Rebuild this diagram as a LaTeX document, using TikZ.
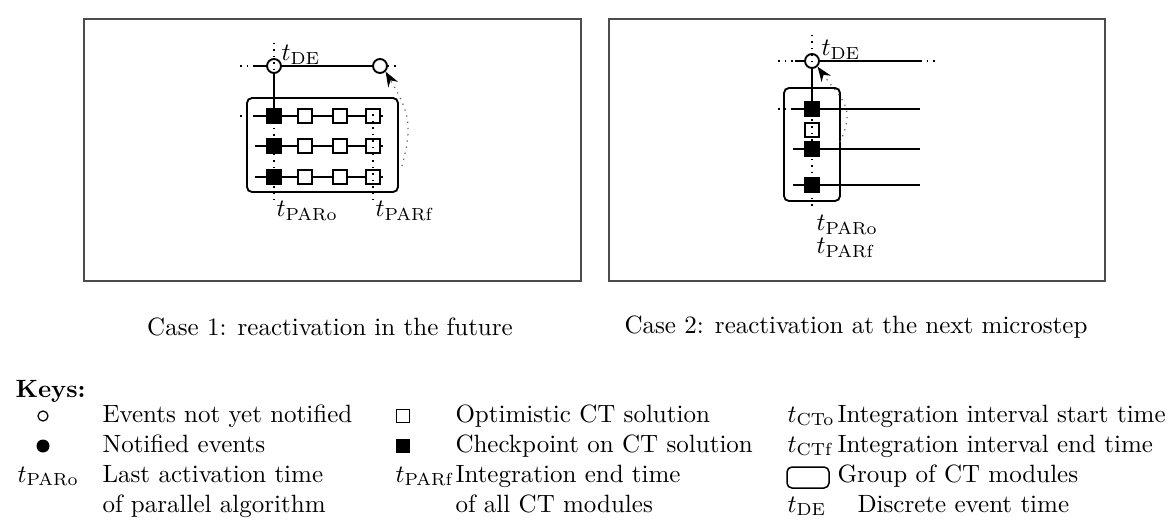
\documentclass[tikz,border=0pt]{standalone}
\usepackage{amsmath}
\usetikzlibrary{arrows.meta, positioning}

\begin{document}
\begin{tikzpicture}[
    x=0.4pt, y=-0.4pt,
    line/.style={line width=0.75pt},
    evt/.style={circle, draw, fill=white, line width=0.75pt, inner sep=0pt, minimum size=5.6pt},
    opt/.style={rectangle, draw, fill=white, line width=0.75pt, inner sep=0pt, minimum size=5.8pt},
    chk/.style={opt, fill=black},
    grp/.style={draw, rounded corners=2pt, line width=0.75pt, inner sep=0pt},
    tick/.style={dotted, line width=0.6pt},
    react/.style={dotted, draw=black!60, line width=0.5pt, -{Stealth[length=6pt, width=4.5pt, black]}},
    frame/.style={draw=black!70, line width=0.5pt},
    lbl/.style={anchor=west, inner sep=0pt},
    key/.style={anchor=base west, inner sep=0pt}
]
    \useasboundingbox (0,0) rectangle (1173,526);

    % case 1
    \draw[frame] (84,19) rectangle (581,281);
    \node[evt] (de1) at (274,66) {};
    \node[evt] (nx1) at (380,66) {};
    \coordinate (de1l) at (255,66);
    \coordinate (de1d) at (240,66);
    \coordinate (nx1d) at (400,66);
    \draw[line] (de1l) -- (de1) -- (nx1);
    \draw[tick] (de1d) -- (de1l);
    \draw[tick] (nx1) -- (nx1d);

    \node[grp, minimum width=60.4pt, minimum height=37.6pt] (g1) at (322.5,145) {};
    \foreach \y [count=\i] in {116,146,177} {
        \node[chk] (a\i) at (274,\y) {};
        \node[opt] (b\i) at (305,\y) {};
        \node[opt] (c\i) at (340,\y) {};
        \node[opt] (d\i) at (373,\y) {};
        \coordinate (l\i) at (255,\y);
        \coordinate (r\i) at (383,\y);
        \draw[line] (l\i) -- (a\i) -- (b\i) -- (c\i) -- (d\i) -- (r\i);
    }
    \coordinate (l1d) at (240,116);
    \draw[tick] (l1d) -- (l1);
    \draw[line] (de1) -- (a1);

    \coordinate (po1t) at (274,43);
    \coordinate (po1b) at (274,200);
    \coordinate (pf1t) at (373,108);
    \coordinate (pf1b) at (373,200);
    \draw[tick] (po1t) -- (po1b);
    \draw[tick] (pf1t) -- (pf1b);

    \node[lbl] (tde1) at (281,55) {$t_{\mathrm{DE}}$};
    \node[lbl] (tpo1) at (276,211) {$t_{\mathrm{PARo}}$};
    \node[lbl] (tpf1) at (375,211) {$t_{\mathrm{PARf}}$};

    \coordinate (s1) at (402,166);
    \draw[react] (s1) to[out=75, in=-60, looseness=1.2] (nx1.south east);

    \node (cap1) at (330,327) {Case 1: reactivation in the future};

    % case 2
    \draw[frame] (609,19) rectangle (1105,281);
    \node[evt] (de2) at (812,61) {};
    \coordinate (de2l) at (795,61);
    \coordinate (de2d) at (778,61);
    \coordinate (de2r) at (920,61);
    \coordinate (de2e) at (935,61);
    \draw[line] (de2l) -- (de2) -- (de2r);
    \draw[tick] (de2d) -- (de2l);
    \draw[tick] (de2r) -- (de2e);

    \node[grp, minimum width=22.4pt, minimum height=45.2pt] (g2) at (812,144.5) {};
    \node[opt] (e0) at (812,130) {};
    \foreach \y [count=\i] in {109,149,185} {
        \node[chk] (e\i) at (812,\y) {};
        \coordinate (m\i) at (793,\y);
        \coordinate (n\i) at (920,\y);
        \draw[line] (m\i) -- (e\i) -- (n\i);
    }
    \coordinate (m1d) at (778,109);
    \draw[tick] (m1d) -- (m1);
    \draw[line] (de2) -- (e1);

    \coordinate (po2t) at (812,35);
    \coordinate (po2b) at (812,207);
    \draw[tick] (po2t) -- (po2b);

    \node[lbl] (tde2) at (821,50) {$t_{\mathrm{DE}}$};
    \node[lbl] (tpo2) at (816,225) {$t_{\mathrm{PARo}}$};
    \node[lbl] (tpf2) at (816,248) {$t_{\mathrm{PARf}}$};

    \coordinate (s2) at (840,142);
    \draw[react] (s2) to[out=65, in=-55, looseness=1.3] (de2.south east);

    \node (cap2) at (856,327) {Case 2: reactivation at the next microstep};

    % keys
    \node[key, font=\bfseries] (keys) at (15,397) {Keys:};

    \node[evt, minimum size=4pt, line width=0.5pt] (k1) at (43,416) {};
    \node[circle, fill, inner sep=0pt, minimum size=5.2pt] (k2) at (43,446) {};
    \node[key] (k3) at (17,482) {$t_{\mathrm{PARo}}$};
    \node[key] (k1t) at (102,422) {Events not yet notified};
    \node[key] (k2t) at (102,452) {Notified events};
    \node[key] (k3t) at (102,482) {Last activation time};
    \node[key] (k4t) at (102,512) {of parallel algorithm};

    \node[opt, minimum size=5pt, line width=0.5pt] (k5) at (403,416) {};
    \node[chk, minimum size=5.2pt] (k6) at (403,446) {};
    \node[key] (k7) at (395,482) {$t_{\mathrm{PARf}}$};
    \node[key] (k5t) at (455,422) {Optimistic CT solution};
    \node[key] (k6t) at (455,452) {Checkpoint on CT solution};
    \node[key] (k7t) at (455,482) {Integration end time};
    \node[key] (k8t) at (455,512) {of all CT modules};

    \node[key] (k9) at (787,422) {$t_{\mathrm{CTo}}$};
    \node[key] (k10) at (787,452) {$t_{\mathrm{CTf}}$};
    \node[grp, line width=0.6pt, minimum width=16.8pt, minimum height=8.4pt] (k11) at (808,477.5) {};
    \node[key] (k12) at (787,512) {$t_{\mathrm{DE}}$};
    \node[key] (k9t) at (837,422) {Integration interval start time};
    \node[key] (k10t) at (837,452) {Integration interval end time};
    \node[key] (k11t) at (837,482) {Group of CT modules};
    \node[key] (k12t) at (857,512) {Discrete event time};
\end{tikzpicture}
\end{document}
